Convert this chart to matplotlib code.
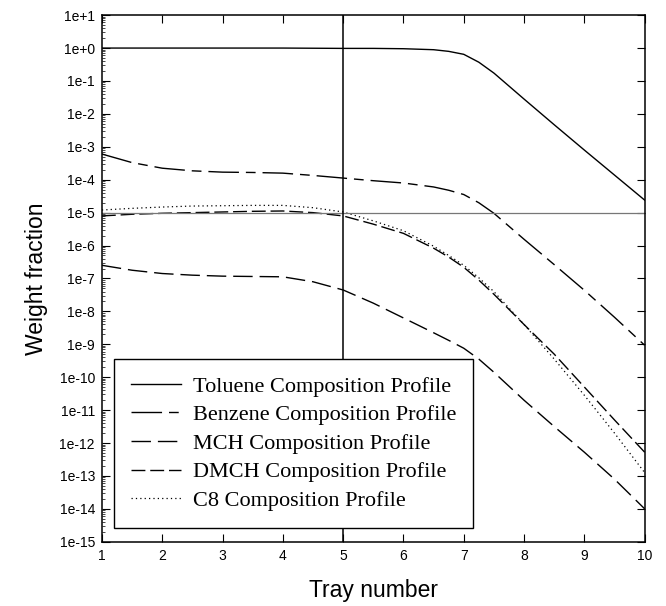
import numpy as np
import matplotlib
matplotlib.use("Agg")
import matplotlib.pyplot as plt
from matplotlib.ticker import LogLocator, FixedLocator

# tray numbers and log10 of weight fraction
trays = [1, 1.5, 2, 2.5, 3, 3.5, 4, 4.5, 5, 5.5, 6, 6.5, 6.75, 7, 7.25, 7.5,
         8, 8.5, 9, 9.5, 10]
toluene = [0, 0, 0, 0, 0, 0, 0, -0.005, -0.01, -0.01, -0.02, -0.05, -0.1, -0.19,
           -0.43, -0.76, -1.55, -2.33, -3.1, -3.86, -4.62]
benzene = [-3.22, -3.48, -3.65, -3.73, -3.77, -3.78, -3.8, -3.87, -3.95, -4.03,
           -4.1, -4.22, -4.32, -4.45, -4.7, -5.02, -5.81, -6.58, -7.36, -8.18, -9.03]
dmch = [-5.1, -5.05, -5.02, -5.0, -4.98, -4.96, -4.95, -5.0, -5.1, -5.35,
        -5.63, -6.08, -6.35, -6.66, -7.05, -7.48, -8.4, -9.3, -10.3, -11.3, -12.28]
c8 = [-4.92, -4.87, -4.83, -4.8, -4.79, -4.78, -4.78, -4.85, -4.98, -5.25,
      -5.55, -6.02, -6.3, -6.6, -6.98, -7.4, -8.4, -9.45, -10.55, -11.7, -12.9]
mch = [-6.6, -6.75, -6.85, -6.9, -6.93, -6.94, -6.95, -7.1, -7.35, -7.75,
       -8.2, -8.65, -8.88, -9.12, -9.45, -9.85, -10.7, -11.5, -12.28, -13.1, -14.0]

decades = list(range(1, -16, -1))
ytick_labels = ["1e+1", "1e+0"] + ["1e%d" % d for d in decades[2:]]

fig = plt.figure(figsize=(6.66, 6.06), dpi=100)
ax = fig.add_axes([0.153, 0.106, 0.815, 0.869])

x = np.array(trays)
lw = 1.0
ax.plot(x, 10 ** np.array(toluene), color="black", lw=lw,
        label="Toluene Composition Profile")
ax.plot(x, 10 ** np.array(benzene), color="black", lw=lw, dashes=(22, 5, 7, 5),
        label="Benzene Composition Profile")
ax.plot(x, 10 ** np.array(mch), color="black", lw=lw, dashes=(14, 5),
        label="MCH Composition Profile")
ax.plot(x, 10 ** np.array(dmch), color="black", lw=lw, dashes=(10, 3.5),
        label="DMCH Composition Profile")
ax.plot(x, 10 ** np.array(c8), color="black", lw=0.9, dashes=(1, 2.5),
        label="C8 Composition Profile")

ax.axhline(1e-5, color="#777777", lw=0.9)
ax.axvline(5, color="black", lw=1.1)

ax.set_yscale("log")
ax.set_xlim(1, 10)
ax.set_ylim(1e-15, 1e1)
ax.set_xticks(range(1, 11))
ax.set_xticklabels([str(i) for i in range(1, 11)])
ax.yaxis.set_major_locator(FixedLocator([10.0 ** d for d in decades]))
ax.set_yticklabels(ytick_labels)
ax.yaxis.set_minor_locator(LogLocator(base=10, subs=np.arange(2, 10), numticks=40))
ax.tick_params(axis="both", which="major", direction="in", length=6, width=0.8,
               top=True, right=True, labelsize=10, pad=5)
ax.tick_params(axis="y", which="minor", direction="in", length=2, width=0.5,
               left=True, right=False)
for lab in ax.get_xticklabels() + ax.get_yticklabels():
    lab.set_family("Liberation Sans")
for sp in ax.spines.values():
    sp.set_linewidth(1.1)

ax.set_xlabel("Tray number", fontsize=16.5, family="Liberation Sans", labelpad=12)
ax.set_ylabel("Weight fraction", fontsize=16.5, family="Liberation Sans", labelpad=8)

leg = ax.legend(loc="lower left", bbox_to_anchor=(0.022, 0.027), fancybox=False,
                framealpha=1, edgecolor="black", borderpad=0.75, labelspacing=0.36,
                handlelength=2.25, handletextpad=0.55, borderaxespad=0,
                prop={"family": "Liberation Serif", "size": 16.0})
leg.get_frame().set_linewidth(1.0)

fig.savefig("out.png", dpi=100)
